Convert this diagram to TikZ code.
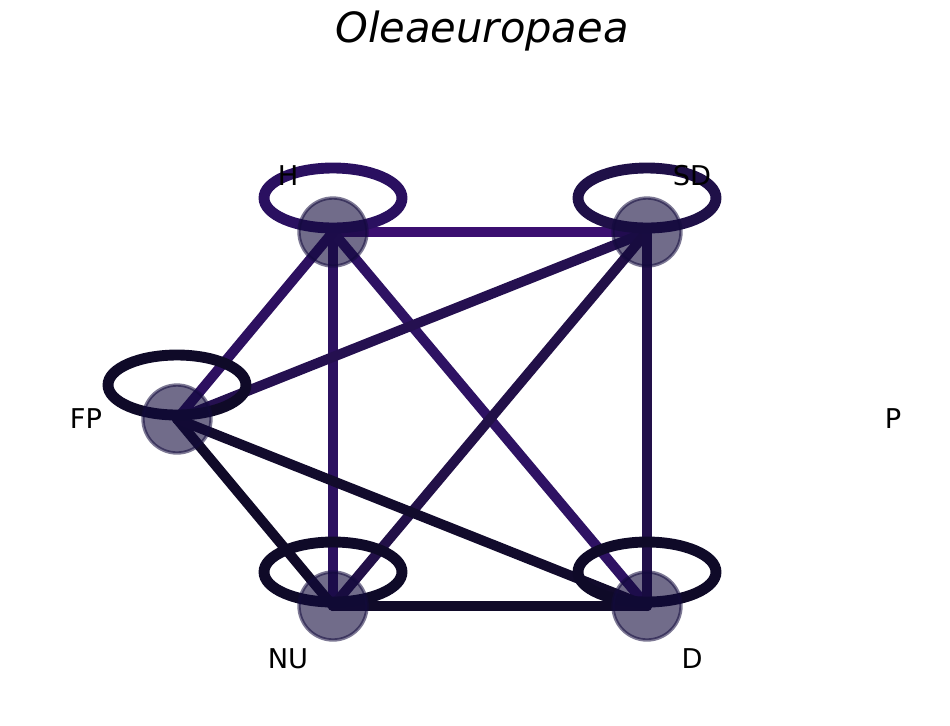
\documentclass[tikz,border=0pt]{standalone}
\usepackage{fontspec}
\setmainfont{DejaVu Sans}
\usetikzlibrary{backgrounds}
\definecolor{nodefill}{RGB}{18,10,60}
\definecolor{eHSD}{RGB}{59,15,112}
\definecolor{eHNU}{RGB}{44,17,96}
\definecolor{eHD}{RGB}{46,18,99}
\definecolor{eHFP}{RGB}{45,16,96}
\definecolor{eSDFP}{RGB}{37,16,80}
\definecolor{eSDNU}{RGB}{34,16,72}
\definecolor{eSDD}{RGB}{34,16,74}
\definecolor{eFPNU}{RGB}{16,10,40}
\definecolor{eFPD}{RGB}{18,11,44}
\definecolor{eNUD}{RGB}{16,10,40}
\definecolor{lH}{RGB}{42,16,96}
\definecolor{lSD}{RGB}{31,16,72}
\definecolor{lLow}{RGB}{15,10,40}
\tikzset{
  vert/.style={circle,minimum size=68*0.02cm,inner sep=0pt,fill=nodefill,
    fill opacity=0.6,draw=nodefill,draw opacity=0.55,line width=1.9pt},
  edge/.style={line width=5.7pt,line cap=round},
  loopline/.style={line width=6.2pt},
  lab/.style={font=\fontsize{15.5}{18}\selectfont,inner sep=0pt}
}
\begin{document}
\begin{tikzpicture}[x=0.02cm,y=-0.02cm]
	\useasboundingbox (0,0) rectangle (950,725);
	% title
	\node (title) at (482,31) {\fontsize{23.7}{28}\selectfont\itshape Oleaeuropaea};
	% vertices
	\node[vert] (H) at (333,232) {};
	\node[vert] (SD) at (647,232) {};
	\node[vert] (FP) at (177,419) {};
	\node[vert] (NU) at (333,606) {};
	\node[vert] (D) at (647,606) {};
	\coordinate (P) at (803,419);
	% edges and loops
	\begin{pgfonlayer}{background}
	\draw[edge,eHSD] (H.center) -- (SD.center);
	\draw[edge,eHNU] (H.center) -- (NU.center);
	\draw[edge,eHD] (H.center) -- (D.center);
	\draw[edge,eHFP] (H.center) -- (FP.center);
	\draw[edge,eSDFP] (SD.center) -- (FP.center);
	\draw[edge,eSDNU] (SD.center) -- (NU.center);
	\draw[edge,eSDD] (SD.center) -- (D.center);
	\draw[edge,eFPNU] (FP.center) -- (NU.center);
	\draw[edge,eFPD] (FP.center) -- (D.center);
	\draw[edge,eNUD] (NU.center) -- (D.center);
	\draw[loopline,lH] ([yshift=34*0.02cm]H.center) ellipse [x radius=69,y radius=30];
	\draw[loopline,lSD] ([yshift=34*0.02cm]SD.center) ellipse [x radius=69,y radius=30];
	\draw[loopline,lLow] ([yshift=34*0.02cm]FP.center) ellipse [x radius=69,y radius=30];
	\draw[loopline,lLow] ([yshift=34*0.02cm]NU.center) ellipse [x radius=69,y radius=30];
	\draw[loopline,lLow] ([yshift=34*0.02cm]D.center) ellipse [x radius=69,y radius=30];
	\end{pgfonlayer}
	% labels
	\node[lab] (Hl) at (288,176) {H};
	\node[lab] (SDl) at (692,176) {SD};
	\node[lab] (FPl) at (86,419) {FP};
	\node[lab] (NUl) at (288,659) {NU};
	\node[lab] (Dl) at (692,659) {D};
	\node[lab] (Pl) at (893,419) {P};
\end{tikzpicture}
\end{document}
